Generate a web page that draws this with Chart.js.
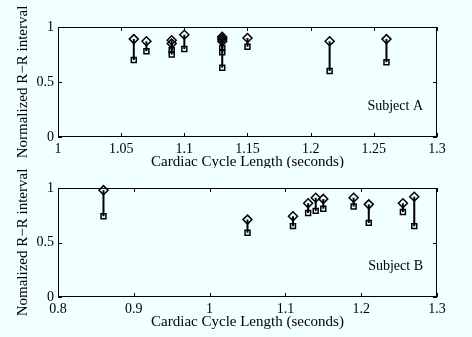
<!DOCTYPE html>
<html>
<head>
<meta charset="utf-8">
<script src="https://cdn.jsdelivr.net/npm/chart.js@4.4.0/dist/chart.umd.min.js"></script>
<style>
  html, body { margin: 0; padding: 0; background: #f0ffff; }
  .box { position: absolute; left: 0; width: 472px; height: 168px; }
</style>
</head>
<body>
<div class="box" style="top:0"><canvas id="chartA"></canvas></div>
<div class="box" style="top:168px;height:169px"><canvas id="chartB"></canvas></div>
<script>
// Subject A
const xA = [1.06, 1.07, 1.09, 1.09, 1.10, 1.13, 1.13, 1.13, 1.15, 1.215, 1.26];
const diamondA = [0.89, 0.87, 0.88, 0.85, 0.93, 0.91, 0.89, 0.87, 0.90, 0.87, 0.89];
const squareA = [0.70, 0.78, 0.79, 0.75, 0.80, 0.81, 0.77, 0.63, 0.82, 0.60, 0.68];
const xTicksA = [1, 1.05, 1.1, 1.15, 1.2, 1.25, 1.3];

// Subject B
const xB = [0.86, 1.05, 1.11, 1.13, 1.14, 1.15, 1.19, 1.21, 1.255, 1.27];
const diamondB = [0.98, 0.71, 0.74, 0.86, 0.91, 0.90, 0.91, 0.85, 0.86, 0.92];
const squareB = [0.74, 0.59, 0.65, 0.77, 0.79, 0.81, 0.83, 0.68, 0.78, 0.65];
const xTicksB = [0.8, 0.9, 1, 1.1, 1.2, 1.3];

const yTicks = [0, 0.5, 1];

const serif = 'Liberation Serif';

// matlab-style box with inward ticks and a text label
const boxPlugin = {
  id: 'box',
  afterDraw(chart, args, opts) {
    const c = chart.ctx, a = chart.chartArea;
    const x = chart.scales.x, y = chart.scales.y;
    c.save();
    c.strokeStyle = '#000';
    c.lineWidth = 1;
    c.strokeRect(a.left + 0.5, a.top + 0.5, a.right - a.left - 1, a.bottom - a.top - 1);
    c.beginPath();
    x.ticks.forEach(t => {
      const px = Math.round(x.getPixelForValue(t.value)) + 0.5;
      c.moveTo(px, a.bottom); c.lineTo(px, a.bottom - 4);
      c.moveTo(px, a.top); c.lineTo(px, a.top + 4);
    });
    y.ticks.forEach(t => {
      const py = Math.round(y.getPixelForValue(t.value)) + 0.5;
      c.moveTo(a.left, py); c.lineTo(a.left + 4, py);
      c.moveTo(a.right, py); c.lineTo(a.right - 4, py);
    });
    c.stroke();
    c.fillStyle = '#000';
    c.font = '14px ' + serif;
    c.textAlign = 'right';
    c.textBaseline = 'middle';
    c.fillText(opts.label, a.right - 14, y.getPixelForValue(0.28));
    c.restore();
  }
};

function makeChart(id, xs, hi, lo, xmin, xmax, xticks, ytitle, label, padTop, padBottom) {
  const datasets = xs.map((x, i) => ({
    data: [{x: x, y: hi[i]}, {x: x, y: lo[i]}],
    showLine: true,
    clip: false,
    borderColor: '#000',
    borderWidth: 2,
    backgroundColor: 'rgba(0,0,0,0)',
    pointStyle: ['rectRot', 'rect'],
    pointRadius: [4.5, 3.5],
    pointBorderWidth: 1.5,
    pointBorderColor: '#000',
    pointBackgroundColor: 'rgba(0,0,0,0)'
  }));
  return new Chart(document.getElementById(id), {
    type: 'scatter',
    data: { datasets: datasets },
    plugins: [boxPlugin],
    options: {
      responsive: true,
      maintainAspectRatio: false,
      animation: false,
      layout: { padding: { top: padTop, right: 35, left: 14, bottom: padBottom } },
      plugins: { legend: { display: false }, tooltip: { enabled: false }, box: { label: label } },
      scales: {
        x: {
          type: 'linear', min: xmin, max: xmax,
          afterBuildTicks: s => { s.ticks = xticks.map(v => ({value: v})); },
          grid: { display: false, drawTicks: false },
          border: { display: false },
          ticks: { color: '#000', font: { family: serif, size: 14 }, padding: 4, maxRotation: 0,
                   callback: v => String(v) },
          title: { display: true, text: 'Cardiac Cycle Length (seconds)', color: '#000',
                   font: { family: serif, size: 15, lineHeight: 0.85 }, padding: { top: 0, bottom: 0 } },
          afterFit: s => { s.height = 31; }
        },
        y: {
          min: 0, max: 1,
          afterBuildTicks: s => { s.ticks = yTicks.map(v => ({value: v})); },
          grid: { display: false, drawTicks: false },
          border: { display: false },
          ticks: { color: '#000', font: { family: serif, size: 14 }, padding: 4,
                   callback: v => String(v) },
          title: { display: true, text: ytitle, color: '#000',
                   font: { family: serif, size: 15 }, padding: { top: 0, bottom: 0 } },
          afterFit: s => { s.width = 44; }
        }
      }
    }
  });
}

makeChart('chartA', xA, diamondA, squareA, 1, 1.3, xTicksA, 'Normalized R\u2212R interval', 'Subject A', 27, 0);
makeChart('chartB', xB, diamondB, squareB, 0.8, 1.3, xTicksB, 'Nomalized R\u2212R interval', 'Subject B', 20, 9);
</script>
</body>
</html>
